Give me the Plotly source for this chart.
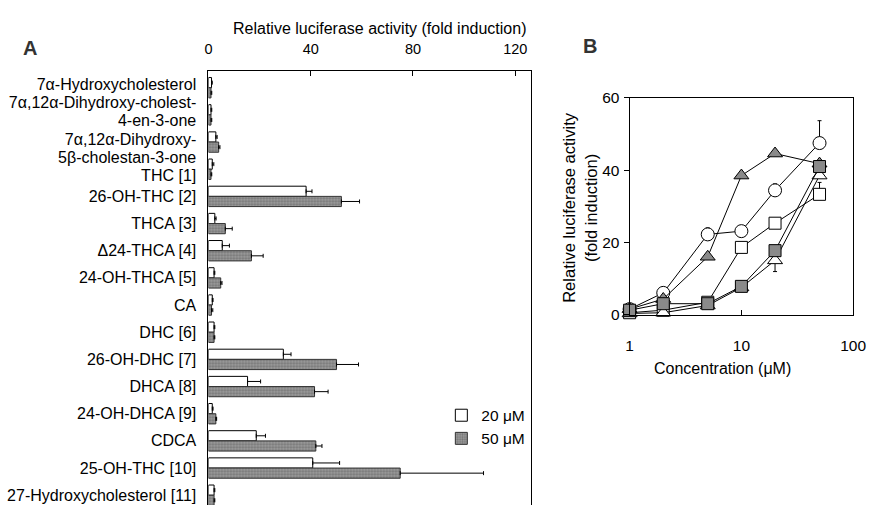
import plotly.graph_objects as go

# ---------------- Panel A data ----------------
categories = [
    "7α-Hydroxycholesterol",
    "7α,12α-Dihydroxy-cholest-\n4-en-3-one",
    "7α,12α-Dihydroxy-\n5β-cholestan-3-one",
    "THC [1]",
    "26-OH-THC [2]",
    "THCA [3]",
    "Δ24-THCA [4]",
    "24-OH-THCA [5]",
    "CA",
    "DHC [6]",
    "26-OH-DHC [7]",
    "DHCA [8]",
    "24-OH-DHCA [9]",
    "CDCA",
    "25-OH-THC [10]",
    "27-Hydroxycholesterol [11]",
]
values_20uM = [1.2, 1.0, 2.9, 1.5, 38.2, 2.5, 5.4, 2.2, 1.5, 2.2, 29.3, 15.3, 1.5, 18.7, 40.8, 2.2]
errors_20uM = [0.3, 0.3, 0.5, 0.6, 2.3, 0.5, 2.8, 0.3, 0.3, 0.3, 3.0, 5.1, 0.3, 3.6, 10.5, 0.3]
values_50uM = [1.0, 1.0, 4.0, 1.0, 52.0, 6.6, 16.8, 4.8, 1.2, 2.2, 50.1, 41.5, 2.9, 42.0, 75.0, 2.2]
errors_50uM = [0.3, 0.3, 0.5, 0.3, 7.1, 2.7, 4.6, 0.5, 0.5, 0.3, 8.6, 5.3, 0.3, 2.4, 32.6, 0.3]
xticks_A = [0, 40, 80, 120]

# ---------------- Panel B data ----------------
concentration = [1, 2, 5, 10, 20, 50]
open_circle = [1.5, 6.0, 22.2, 23.1, 34.4, 47.5]
open_circle_err = [0, 0, 1.8, 0, 1.8, 6.2]
filled_triangle = [1.5, 4.3, 16.0, 38.5, 44.6, 41.8]
open_square = [0.5, 1.2, 3.4, 18.6, 25.3, 33.3]
open_square_err = [0, 0, 0, 0, 0, 3.3]
filled_square = [1.2, 3.0, 3.0, 7.8, 17.7, 41.0]
open_triangle = [0.3, 0.5, 2.5, 7.5, 15.0, 38.5]
open_triangle_errminus = [0, 0, 0, 0, 3.1, 0]
yticks_B = [0, 20, 40, 60]
xticks_B = [1, 10, 100]

FONT = "Liberation Sans, Arial, sans-serif"
W, H = 875, 513
GREY = "#8a8a8a"

# category positions on the (reversed) bar axis, and per-line tick labels
positions = list(range(len(categories)))
LINE_STEP = 0.66
label_shift = {0: -0.12, 1: -0.124, 2: 0.228, 3: 0.22}
tick_vals, tick_text = [], []
for i, name in zip(positions, categories):
    lines = name.split("\n")
    n = len(lines)
    for k, line in enumerate(lines):
        tick_vals.append(i + (k - (n - 1) / 2) * LINE_STEP + label_shift.get(i, 0))
        tick_text.append(line)

hover_names = [c.replace("\n", " ") for c in categories]

fig = go.Figure()

# Panel A bars
fig.add_trace(go.Bar(
    y=positions, x=values_20uM, orientation="h", name="20 μM",
    hovertext=hover_names,
    marker=dict(color="white", line=dict(color="black", width=1)),
    error_x=dict(type="data", array=errors_20uM, arrayminus=[0] * len(errors_20uM),
                 symmetric=False, color="black", thickness=1, width=2),
    xaxis="x", yaxis="y",
))
fig.add_trace(go.Bar(
    y=positions, x=values_50uM, orientation="h", name="50 μM",
    hovertext=hover_names,
    marker=dict(color=GREY, line=dict(color="#333333", width=1),
                pattern=dict(shape=".", bgcolor="#9c9c9c", fgcolor="#4e4e4e",
                             size=3, solidity=0.45)),
    error_x=dict(type="data", array=errors_50uM, arrayminus=[0] * len(errors_50uM),
                 symmetric=False, color="black", thickness=1, width=2),
    xaxis="x", yaxis="y",
))

# Panel B lines
def add_series(yvals, symbol, fill, size, err=None, errminus=None):
    kw = {}
    if err is not None or errminus is not None:
        up = err if err is not None else [0] * len(yvals)
        dn = errminus if errminus is not None else [0] * len(yvals)
        kw["error_y"] = dict(type="data", array=up, arrayminus=dn, symmetric=False,
                             color="black", thickness=1, width=2)
    fig.add_trace(go.Scatter(
        x=concentration, y=yvals, mode="lines+markers",
        line=dict(color="black", width=1),
        marker=dict(symbol=symbol, size=size, color=fill,
                    line=dict(color="black", width=1)),
        cliponaxis=False, showlegend=False, xaxis="x2", yaxis="y2", **kw,
    ))

add_series(open_square, "square", "white", 12, err=open_square_err)
add_series(open_circle, "circle", "white", 13, err=open_circle_err)
add_series(filled_triangle, "triangle-up", GREY, 13)
add_series(open_triangle, "triangle-up", "white", 13, errminus=open_triangle_errminus)
add_series(filled_square, "square", GREY, 12)

def px_x(p):
    return p / W

def px_y(p):
    return 1 - p / H

def label(text, x, y, size, **kw):
    return dict(text=text, x=px_x(x), y=px_y(y), xref="paper", yref="paper",
                xanchor="center", yanchor="middle", showarrow=False,
                font=dict(size=size, color=kw.pop("color", "black")), **kw)

TOP_A = 64
fig.update_layout(
    width=W, height=H,
    margin=dict(l=0, r=0, t=0, b=0),
    paper_bgcolor="white", plot_bgcolor="white",
    font=dict(family=FONT, size=16, color="black"),
    barmode="group", bargap=0.25, bargroupgap=0.0,
    showlegend=True,
    legend=dict(x=px_x(446), y=px_y(403), xanchor="left", yanchor="top",
                bgcolor="rgba(0,0,0,0)", font=dict(size=15.5), itemwidth=30,
                tracegroupgap=0),
    xaxis=dict(domain=[px_x(208.5), px_x(537)], range=[0, 126], side="top",
               tickvals=xticks_A, ticks="inside", ticklen=5, tickcolor="black",
               showline=True, linecolor="black", linewidth=1, mirror=False,
               showgrid=False, zeroline=False, anchor="y",
               tickfont=dict(size=14.5), ticklabelstandoff=10),
    yaxis=dict(domain=[0, px_y(TOP_A)], range=[15.36, -0.62],
               tickvals=tick_vals, ticktext=tick_text,
               showline=True, linecolor="black", linewidth=1, mirror=True,
               ticks="", showgrid=False, zeroline=False, anchor="x",
               tickfont=dict(size=16), ticklabelstandoff=8),
    xaxis2=dict(domain=[px_x(638), px_x(866)], type="log", range=[0, 2],
                tickvals=xticks_B, ticktext=[str(v) for v in xticks_B],
                ticks="inside", ticklen=5, tickcolor="black",
                showline=True, linecolor="black", linewidth=1, mirror=True,
                showgrid=False, zeroline=False, anchor="y2",
                tickfont=dict(size=15.5), ticklabelstandoff=17,
                ticklabeloverflow="allow"),
    yaxis2=dict(domain=[px_y(316), px_y(92)], range=[0, 60],
                tickvals=yticks_B, ticks="outside", ticklen=5, tickcolor="black",
                showline=True, linecolor="black", linewidth=1, mirror=True,
                showgrid=False, zeroline=False, anchor="x2",
                tickfont=dict(size=15.5), ticklabelstandoff=1),
    annotations=[
        label("<b>A</b>", 27, 40, 20, color="#333333"),
        label("<b>B</b>", 598, 38, 20, color="#333333"),
        label("Relative luciferase activity (fold induction)", 383, 20, 16),
        label("Concentration (μM)", 733, 372, 16),
        label("Relative luciferase activity<br>(fold induction)", 587, 205, 16.5,
              textangle=-90),
    ],
)

fig.write_html("out.html", post_script="document.body.style.margin='0';",
               config={"displayModeBar": False})
